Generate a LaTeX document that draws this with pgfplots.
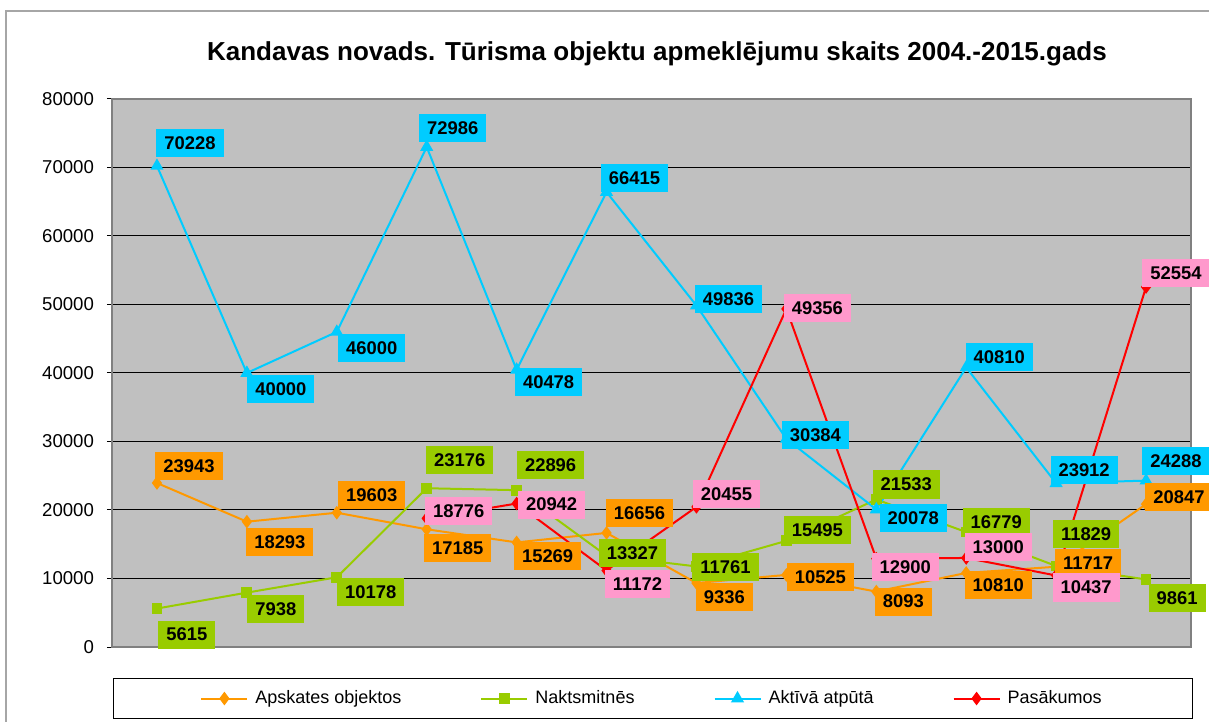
\documentclass[border=0pt]{standalone}
\usepackage{fontspec}
\setmainfont{Liberation Sans}
\usepackage{pgfplots}
\usepackage{pgfplotstable}
\pgfplotsset{compat=1.18}

\definecolor{orng}{HTML}{FF9900}
\definecolor{grn}{HTML}{99CC00}
\definecolor{cyn}{HTML}{00CCFF}
\definecolor{rd}{HTML}{FF0000}
\definecolor{pnk}{HTML}{FF99CC}
\definecolor{plotbg}{HTML}{C0C0C0}
\definecolor{frame}{HTML}{808080}

\newcommand\lblfont{\fontsize{9.2}{11}\selectfont\bfseries}

% x = year index (2004 = 0), y = value, dx/dy = label offset in px (dy down)
\pgfplotstableread{
x y dx dy
0 23943 32 -17
1 18293 33 20
2 19603 35 -18
3 17185 31 19
4 15269 31 14
5 16656 33 -20
6 9336 28 14
7 10525 34 2
8 8093 27 10
9 10810 32 12
10 11717 32 -4
11 20847 33 -7
}\apskates

\pgfplotstableread{
x y dx dy
0 5615 30 26
1 7938 29 16
2 10178 34 15
3 23176 33 -28
4 22896 34 -25
5 13327 26 -3
6 11761 29 1
7 15495 31 -11
8 21533 30 -15
9 16779 30 -10
10 11829 30 -32
11 9861 31 19
}\naktsmitnes

\pgfplotstableread{
x y dx dy
0 70228 33 -23
1 40000 34 16
2 46000 35 16
3 72986 26 -19
4 40478 32 12
5 66415 28 -14
6 49836 32 -7
7 30384 29 -4
8 20078 37 9
9 40810 33 -10
10 23912 28 -13
11 24288 30 -20
}\aktiva

\pgfplotstableread{
x y dx dy
3 18776 32 -7
4 20942 35 1
5 11172 31 14
6 20455 30 -13
7 49356 31 -1
8 12900 29 8
9 13000 32 -11
10 10437 30 12
11 52554 30 -14
}\pasakumos

\pgfplotsset{
  lbls/.style={draw=none, mark=none, forget plot,
    point meta=explicit symbolic,
    visualization depends on={\thisrow{dx}\as\dx},
    visualization depends on={\thisrow{dy}\as\dy},
    nodes near coords,
    nodes near coords align=center,
    every node near coord/.append style={anchor=center, fill=#1,
      xshift={0.5pt*\dx}, yshift={-0.5pt*\dy},
      font=\lblfont, text=black, inner xsep=4pt, inner ysep=3.8pt, text depth=0pt}
  }
}

\begin{document}
\begin{tikzpicture}
% outer chart frame
\draw[frame!70, line width=0.8pt] (-53pt,-60pt) -- (-53pt,318pt) -- (620pt,318pt);
\begin{axis}[
  at={(0pt,0pt)}, anchor=south west,
  scale only axis, width=539.5pt, height=274pt,
  xmin=-0.5, xmax=11.5, ymin=0, ymax=80000,
  xtick=\empty,
  ytick={0,10000,...,80000},
  ytick pos=left,
  tick align=outside,
  major tick length=2.5pt,
  tick style={black, line width=0.5pt},
  scaled y ticks=false,
  /pgf/number format/1000 sep={},
  /pgf/number format/assume math mode=true,
  yticklabel style={font=\fontsize{9.3}{11}\selectfont, xshift=-3pt},
  ymajorgrids,
  grid style={black, line width=0.5pt},
  axis line style={frame, line width=1pt},
  axis background/.style={fill=plotbg},
  clip=false,
  legend columns=4,
  legend style={at={(axis description cs:0.5014,-0.094)}, anchor=center,
    draw=black, line width=0.5pt, inner xsep=43.5pt, inner ysep=4pt,
    font=\fontsize{9}{11}\selectfont, column sep=1.5pt},
  legend image code/.code={\draw[mark repeat=2,mark phase=2] plot coordinates {(0pt,0pt) (11.5pt,0pt) (23pt,0pt)};},
]
\addplot[orng, line width=1pt, mark=diamond*, mark size=2.6pt] table[x=x,y=y] \apskates;
\addlegendentry{\mbox{Apskates objektos\hspace{36pt}}}
\addplot[grn, line width=1pt, mark=square*, mark size=2.2pt] table[x=x,y=y] \naktsmitnes;
\addlegendentry{\mbox{Naktsmitnēs\hspace{36pt}}}
\addplot[cyn, line width=1pt, mark=triangle*, mark size=2.8pt] table[x=x,y=y] \aktiva;
\addlegendentry{\mbox{Aktīvā atpūtā\hspace{36pt}}}
\addplot[rd, line width=1pt, mark=diamond*, mark size=2.6pt] table[x=x,y=y] \pasakumos;
\addlegendentry{Pasākumos}

\addplot[lbls=orng] table[x=x,y=y,meta=y] \apskates;
\addplot[lbls=grn] table[x=x,y=y,meta=y] \naktsmitnes;
\addplot[lbls=cyn] table[x=x,y=y,meta=y] \aktiva;
\addplot[lbls=pnk] table[x=x,y=y,meta=y] \pasakumos;
\end{axis}
\node[anchor=base, font=\fontsize{13}{15}\selectfont\bfseries] at (272.5pt,293pt)
  {Kandavas novads. Tūrisma objektu apmeklējumu skaits 2004.-2015.gads};
\pgfresetboundingbox
\path[use as bounding box] (-56pt,-37.5pt) rectangle (548.5pt,323.5pt);
\end{tikzpicture}
\end{document}
